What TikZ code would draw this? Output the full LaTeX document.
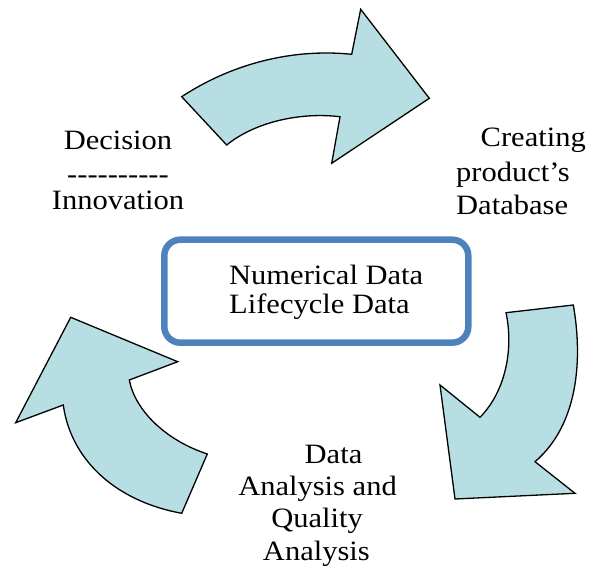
\documentclass[tikz,border=0pt]{standalone}
\usepackage{fontspec}
\setmainfont{Liberation Serif}[FakeStretch=1.09]
\definecolor{arrowfill}{HTML}{B7DFE3}
\definecolor{boxblue}{HTML}{4F81BD}
\begin{document}
\begin{tikzpicture}[x=1pt,y=-1pt,
  bigarrow/.style={fill=arrowfill,draw=black,line width=1.3pt,line join=miter},
  lbl/.style={inner sep=0pt,font=\fontsize{28}{30}\selectfont,anchor=base},
  lblw/.style={lbl,anchor=base west},
  lble/.style={lbl,anchor=base east},
  centerbox/.style={draw=boxblue,line width=6.5pt,rounded corners=16pt}]
\useasboundingbox (0,0) rectangle (595,572);
% top arrow
\draw[bigarrow] (181.7,96.7) .. controls (230,65) and (290,48) .. (351.7,54.3)
  -- (360.7,9.3) -- (429.3,98.3) -- (331.7,163.3) -- (340,116.7)
  .. controls (300,112) and (255,122) .. (226.7,145) -- cycle;
% right arrow
\draw[bigarrow] (506,312.7) -- (573.3,305)
  .. controls (583,360) and (578,425) .. (535,461.7)
  -- (575,493.3) -- (455,499) -- (440,385) -- (480,417.3)
  .. controls (505,392) and (514,350) .. (506,312.7) -- cycle;
% left arrow
\draw[bigarrow] (181.7,513.3) -- (207.3,454)
  .. controls (165,440) and (135,410) .. (129.3,380)
  -- (177.7,361.7) -- (70.7,317.3) -- (15.7,422.7) -- (63.3,405)
  .. controls (70,455) and (110,500) .. (181.7,513.3) -- cycle;
% centre box
\draw[centerbox] (164.3,239.7) rectangle (468.3,342.7);
\node[lblw] (num) at (229,285) {Numerical Data};
\node[lblw] (life) at (229,313.3) {Lifecycle Data};
% decision
\node[lbl] (dec) at (118,149.3) {Decision};
\node[lbl] (dash) at (118,184) {-{}-{}-{}-{}-{}-{}-{}-{}-{}-};
\node[lbl] (inno) at (118,210) {Innovation};
% creating
\node[lble] (cre) at (586,146.7) {Creating};
\node[lblw] (prod) at (456,181.7) {product’s};
\node[lblw] (db) at (456,215) {Database};
% data analysis
\node[lble] (da1) at (362.5,463.3) {Data};
\node[lble] (da2) at (397,495) {Analysis and};
\node[lble] (da3) at (363,527.3) {Quality};
\node[lble] (da4) at (370,560) {Analysis};
\end{tikzpicture}
\end{document}
